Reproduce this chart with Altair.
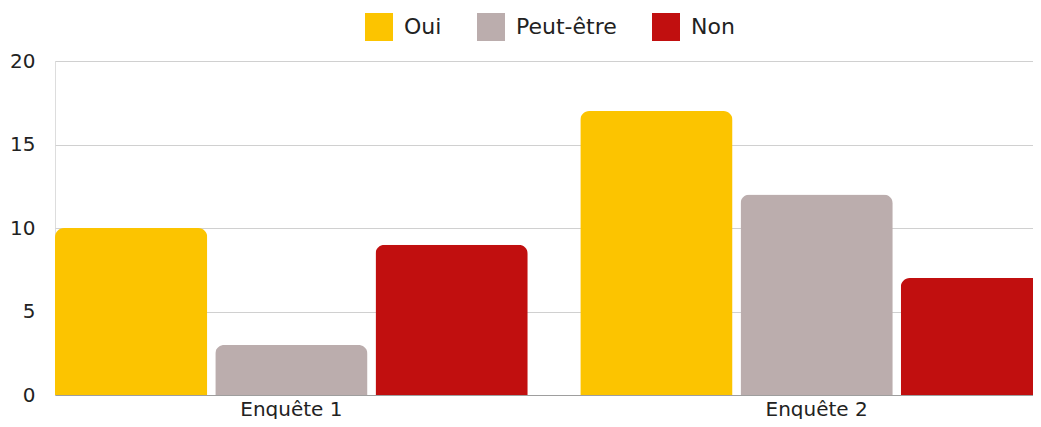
import altair as alt
import pandas as pd

groups = ["Enquête 1", "Enquête 2"]
series = ["Oui", "Peut-être", "Non"]
oui = [10, 17]
peut_etre = [3, 12]
non = [9, 7]
colors = ["#FCC400", "#BBADAD", "#C10F0F"]

rows = []
for i, g in enumerate(groups):
    for s, vals in zip(series, [oui, peut_etre, non]):
        rows.append({"group": g, "series": s, "value": vals[i]})
df = pd.DataFrame(rows)

FONT = "DejaVu Sans"

chart = alt.Chart(df).mark_bar(
    cornerRadiusTopLeft=9, cornerRadiusTopRight=9
).encode(
    x=alt.X(
        "group:N", sort=groups, title=None,
        scale=alt.Scale(range=[0, 998], paddingInner=0.1, paddingOuter=0),
        axis=alt.Axis(labelAngle=0, ticks=False, tickSize=0, labelPadding=4,
                      labelFontSize=20, labelColor="#222222", labelFont=FONT,
                      domainColor="#9e9e9e", domainWidth=1),
    ),
    xOffset=alt.XOffset("series:N", sort=series,
                        scale=alt.Scale(paddingInner=0.05, paddingOuter=0)),
    y=alt.Y(
        "value:Q", title=None, scale=alt.Scale(domain=[0, 20]),
        axis=alt.Axis(values=[0, 5, 10, 15, 20], domain=False, ticks=False, tickSize=0,
                      labelPadding=20, labelFontSize=20, labelColor="#222222",
                      labelFont=FONT, gridColor="#d0d0d0", gridWidth=1),
    ),
    color=alt.Color(
        "series:N", sort=series,
        scale=alt.Scale(domain=series, range=colors),
        legend=alt.Legend(
            title=None, orient="none", legendX=310, legendY=-48,
            direction="horizontal", symbolType="square", symbolSize=784,
            symbolStrokeWidth=0, symbolOpacity=1, labelFontSize=22,
            labelFont=FONT, labelColor="#222222", labelOffset=11,
            columnPadding=35, padding=0,
        ),
    ),
).properties(
    width=978, height=334,
    autosize=alt.AutoSizeParams(type="none"),
    padding={"left": 47, "top": 53, "right": 0, "bottom": 24},
).configure_view(stroke=None).configure(background="white")

chart.save("out.html", embed_options={"renderer": "svg", "actions": False})
